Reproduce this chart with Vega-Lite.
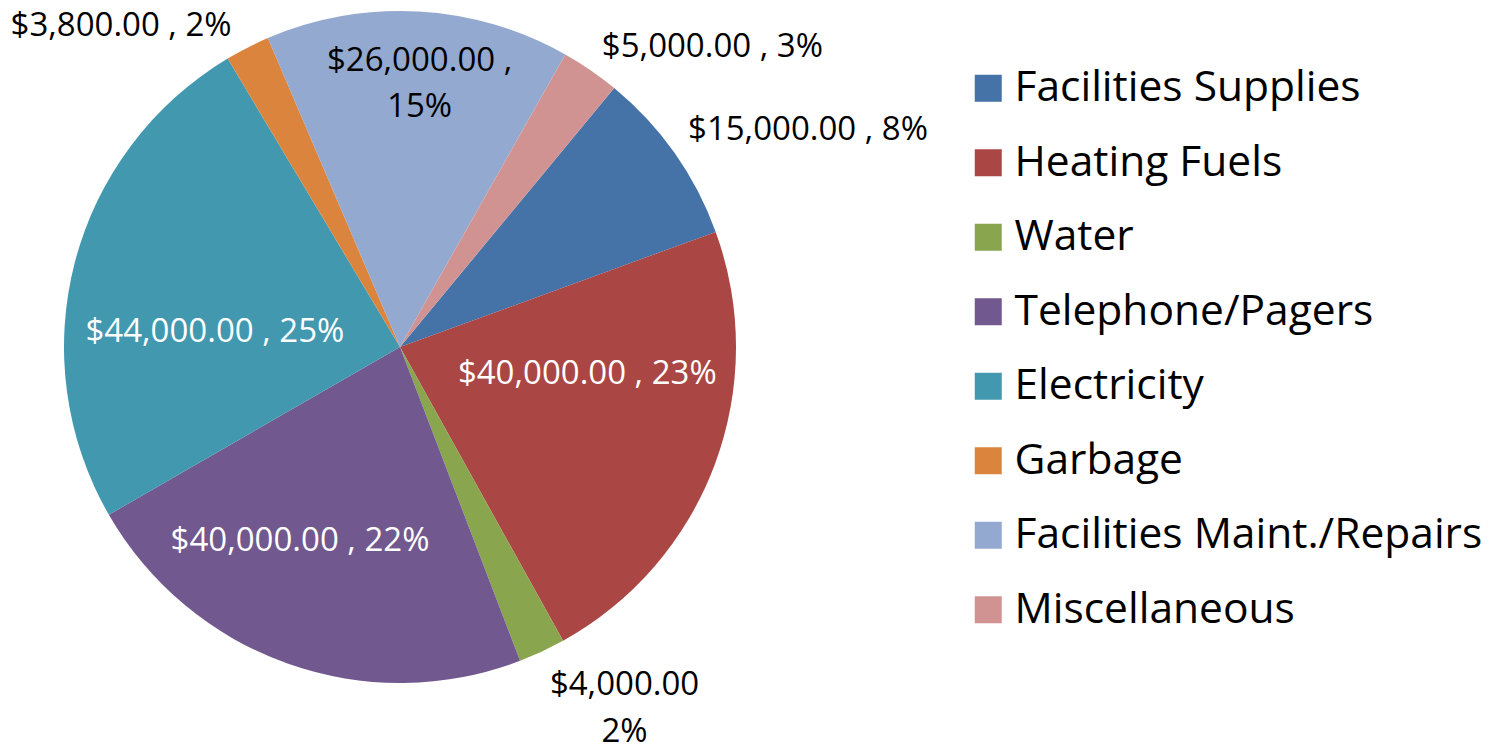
{
  "$schema": "https://vega.github.io/schema/vega-lite/v6.json",
  "width": 800,
  "height": 694,
  "padding": {"left": 0, "top": 0, "right": 698, "bottom": 53},
  "autosize": {"type": "none"},
  "background": "white",
  "config": {"view": {"stroke": null}, "font": "Open Sans", "text": {"font": "Open Sans"}},
  "data": {
    "values": [
      {"idx": 1, "category": "Facilities Supplies", "amount": 15000, "label": "$15,000.00 , 8%"},
      {"idx": 2, "category": "Heating Fuels", "amount": 40000, "label": "$40,000.00 , 23%"},
      {"idx": 3, "category": "Water", "amount": 4000, "label": "$4,000.00\n2%"},
      {"idx": 4, "category": "Telephone/Pagers", "amount": 40000, "label": "$40,000.00 , 22%"},
      {"idx": 5, "category": "Electricity", "amount": 44000, "label": "$44,000.00 , 25%"},
      {"idx": 6, "category": "Garbage", "amount": 3800, "label": "$3,800.00 , 2%"},
      {"idx": 7, "category": "Facilities Maint./Repairs", "amount": 26000, "label": "$26,000.00 ,\n15%"},
      {"idx": 8, "category": "Miscellaneous", "amount": 5000, "label": "$5,000.00 , 3%"}
    ]
  },
  "encoding": {
    "theta": {"field": "amount", "type": "quantitative", "stack": true, "scale": {"range": [0.6912, 6.9744]}},
    "order": {"field": "idx", "type": "quantitative"}
  },
  "layer": [
    {
      "mark": {"type": "arc", "radius": 336},
      "encoding": {
        "color": {
          "field": "category",
          "type": "nominal",
          "scale": {
            "domain": ["Facilities Supplies", "Heating Fuels", "Water", "Telephone/Pagers", "Electricity", "Garbage", "Facilities Maint./Repairs", "Miscellaneous"],
            "range": ["#4572A7", "#AA4643", "#89A54E", "#71588F", "#4198AF", "#DB843D", "#93A9CF", "#D19392"]
          },
          "legend": {
            "title": null,
            "orient": "none",
            "legendX": 967,
            "legendY": 67,
            "padding": 0,
            "symbolType": "square",
            "symbolSize": 729,
            "symbolStrokeWidth": 0,
            "symbolOpacity": 1,
            "labelFont": "Open Sans",
            "labelFontSize": 42.5,
            "labelColor": "#000000",
            "labelOffset": 5,
            "labelLimit": 0,
            "rowPadding": 31.5
          }
        }
      }
    },
    {
      "mark": {"type": "text", "radius": 459, "dx": 33, "dy": 48, "fontSize": 33, "fill": "#000000"},
      "encoding": {"detail": {"field": "category", "type": "nominal"}, "text": {"condition": {"test": "datum.category === 'Facilities Supplies'", "field": "label", "type": "nominal"}, "value": ""}}
    },
    {
      "mark": {"type": "text", "radius": 185, "dx": 14, "dy": -38, "fontSize": 33, "fill": "#FFFFFF"},
      "encoding": {"detail": {"field": "category", "type": "nominal"}, "text": {"condition": {"test": "datum.category === 'Heating Fuels'", "field": "label", "type": "nominal"}, "value": ""}}
    },
    {
      "mark": {"type": "text", "radius": 425, "dx": 45, "dy": -47, "fontSize": 33, "fill": "#000000", "lineBreak": "\n", "lineHeight": 47},
      "encoding": {"detail": {"field": "category", "type": "nominal"}, "text": {"condition": {"test": "datum.category === 'Water'", "field": "label", "type": "nominal"}, "value": ""}}
    },
    {
      "mark": {"type": "text", "radius": 215, "dx": -28, "dy": -9, "fontSize": 33, "fill": "#FFFFFF"},
      "encoding": {"detail": {"field": "category", "type": "nominal"}, "text": {"condition": {"test": "datum.category === 'Telephone/Pagers'", "field": "label", "type": "nominal"}, "value": ""}}
    },
    {
      "mark": {"type": "text", "radius": 183, "dx": -8, "dy": 31, "fontSize": 33, "fill": "#FFFFFF"},
      "encoding": {"detail": {"field": "category", "type": "nominal"}, "text": {"condition": {"test": "datum.category === 'Electricity'", "field": "label", "type": "nominal"}, "value": ""}}
    },
    {
      "mark": {"type": "text", "radius": 416, "dx": -90, "dy": 50, "fontSize": 33, "fill": "#000000"},
      "encoding": {"detail": {"field": "category", "type": "nominal"}, "text": {"condition": {"test": "datum.category === 'Garbage'", "field": "label", "type": "nominal"}, "value": ""}}
    },
    {
      "mark": {"type": "text", "radius": 265, "dx": 5, "dy": -21, "fontSize": 33, "fill": "#000000", "lineBreak": "\n", "lineHeight": 46},
      "encoding": {"detail": {"field": "category", "type": "nominal"}, "text": {"condition": {"test": "datum.category === 'Facilities Maint./Repairs'", "field": "label", "type": "nominal"}, "value": ""}}
    },
    {
      "mark": {"type": "text", "radius": 424, "dx": 72, "dy": 49, "fontSize": 33, "fill": "#000000"},
      "encoding": {"detail": {"field": "category", "type": "nominal"}, "text": {"condition": {"test": "datum.category === 'Miscellaneous'", "field": "label", "type": "nominal"}, "value": ""}}
    }
  ]
}
